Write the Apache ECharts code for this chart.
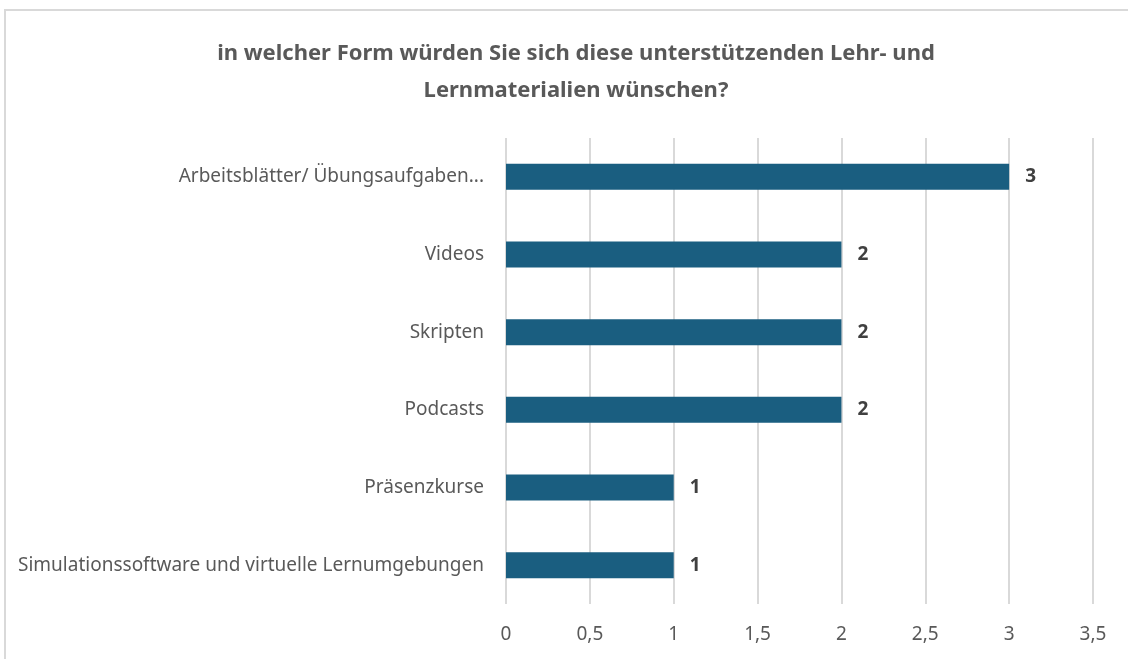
<!DOCTYPE html>
<html lang="de">
<head>
<meta charset="UTF-8">
<title>Lehr- und Lernmaterialien</title>
<style>
  body { margin: 0; background: #fff; }
  #wrap { position: relative; width: 1128px; height: 659px; overflow: hidden; }
  #frame { position: absolute; left: 4px; top: 9px; width: 1140px; height: 680px; border: 2px solid #d9d9d9; box-sizing: border-box; }
  #chart { position: absolute; left: 0; top: 0; width: 1128px; height: 659px; }
</style>
</head>
<body>
<div id="wrap">
  <div id="frame"></div>
  <div id="chart"></div>
</div>
<script src="https://cdn.jsdelivr.net/npm/echarts@6/dist/echarts.min.js"></script>
<script>
// Daten
var kategorien = [
  'Arbeitsblätter/ Übungsaufgaben...',
  'Videos',
  'Skripten',
  'Podcasts',
  'Präsenzkurse',
  'Simulationssoftware und virtuelle Lernumgebungen'
];
var anzahl = [3, 2, 2, 2, 1, 1];
var achsenTicks = [0, 0.5, 1, 1.5, 2, 2.5, 3, 3.5];

var chart = echarts.init(document.getElementById('chart'), null, { renderer: 'canvas' });

var option = {
  animation: false,
  title: {
    text: 'in welcher Form würden Sie sich diese unterstützenden Lehr- und\nLernmaterialien wünschen?',
    left: 571,
    top: 30,
    textAlign: 'center',
    textStyle: {
      fontFamily: '"Noto Sans", sans-serif',
      fontSize: 22,
      fontWeight: 'bold',
      color: '#595959',
      lineHeight: 37
    }
  },
  grid: { left: 506, right: 35, top: 138, bottom: 55, containLabel: false },
  xAxis: {
    type: 'value',
    min: achsenTicks[0],
    max: achsenTicks[achsenTicks.length - 1],
    interval: 0.5,
    axisLine: { show: false },
    axisTick: { show: false },
    axisLabel: {
      margin: 21,
      fontFamily: '"Noto Sans", sans-serif',
      fontSize: 19,
      color: '#595959',
      formatter: function (v) { return String(v).replace('.', ','); }
    },
    splitLine: { lineStyle: { color: '#d9d9d9', width: 2 } }
  },
  yAxis: {
    type: 'category',
    inverse: true,
    data: kategorien,
    axisLine: { show: false },
    axisTick: { show: false },
    axisLabel: {
      margin: 22,
      fontFamily: '"Noto Sans", sans-serif',
      fontSize: 19,
      color: '#595959'
    }
  },
  series: [{
    type: 'bar',
    data: anzahl,
    barWidth: 26,
    itemStyle: { color: '#1a5e80' },
    label: {
      show: true,
      position: 'right',
      distance: 16,
      fontFamily: '"Noto Sans", sans-serif',
      fontSize: 19,
      fontWeight: 'bold',
      color: '#404040'
    }
  }]
};
chart.setOption(option);
</script>
</body>
</html>
